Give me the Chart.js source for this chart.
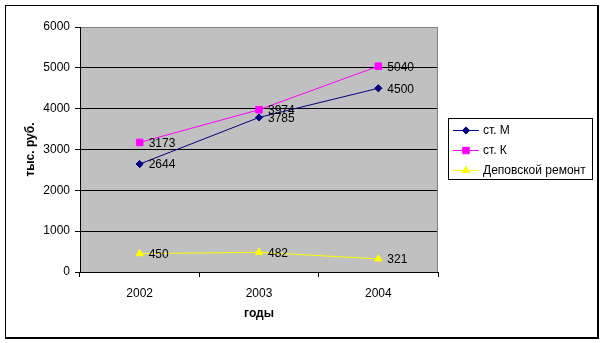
<!DOCTYPE html>
<html>
<head>
<meta charset="utf-8">
<script src="https://cdn.jsdelivr.net/npm/chart.js@4/dist/chart.umd.min.js"></script>
<style>
  html, body { margin: 0; padding: 0; background: #fff; }
  #wrap { width: 604px; height: 343px; position: relative; }
</style>
</head>
<body>
<div id="wrap"><canvas id="c" width="604" height="343"></canvas></div>
<script>
const years = ['2002', '2003', '2004'];
const seriesM = [2644, 3785, 4500];
const seriesK = [3173, 3974, 5040];
const seriesRepair = [450, 482, 321];
const seriesNames = ['ст. М', 'ст. К', 'Деповской ремонт'];
const yTicks = [0, 1000, 2000, 3000, 4000, 5000, 6000];
const yTitle = 'тыс. руб.';
const xTitle = 'годы';

const FONT = "'Liberation Sans', Arial, sans-serif";

const colors = ['#000080', '#FF00FF', '#FFFF00'];
const styles = ['rectRot', 'rect', 'triangle'];
const radii = [3.6, 4.6, 4.2];

const framePlugin = {
  id: 'frame',
  beforeDraw(chart) {
    const {ctx, chartArea: a} = chart;
    ctx.save();
    ctx.fillStyle = '#fff';
    ctx.fillRect(0, 0, chart.width, chart.height);
    ctx.fillStyle = '#C0C0C0';
    ctx.fillRect(a.left, a.top, a.right - a.left, a.bottom - a.top);
    ctx.restore();
  },
  afterDraw(chart) {
    const {ctx, chartArea: a} = chart;
    ctx.save();
    // plot area right edge (gray)
    ctx.fillStyle = '#808080';
    ctx.fillRect(Math.round(a.right) - 1, Math.round(a.top), 1, Math.round(a.bottom - a.top));
    // outer border with shadow
    ctx.fillStyle = '#000';
    ctx.fillRect(5, 5, 593, 1);
    ctx.fillRect(5, 5, 1, 334);
    ctx.fillRect(597, 5, 2, 334);
    ctx.fillRect(5, 337, 594, 2);
    // legend
    ctx.fillStyle = '#fff';
    ctx.fillRect(448, 118, 144, 62);
    ctx.strokeStyle = '#000';
    ctx.lineWidth = 1;
    ctx.strokeRect(448.5, 118.5, 144, 61);
    ctx.font = '12px ' + FONT;
    ctx.textBaseline = 'middle';
    ctx.textAlign = 'left';
    chart.data.datasets.forEach((ds, i) => {
      const y = 130 + i * 20;
      ctx.strokeStyle = ds.borderColor;
      ctx.lineWidth = 1;
      ctx.beginPath();
      ctx.moveTo(453, y + 0.5);
      ctx.lineTo(479, y + 0.5);
      ctx.stroke();
      ctx.fillStyle = ds.pointBackgroundColor;
      ctx.strokeStyle = ds.pointBorderColor;
      Chart.helpers.drawPoint(ctx, {pointStyle: ds.pointStyle, radius: ds.pointRadius, borderWidth: 1}, 466, y + 0.5);
      ctx.fillStyle = '#000';
      ctx.fillText(ds.label, 483, y + 1);
    });
    ctx.restore();
  },
  afterDatasetsDraw(chart) {
    const {ctx} = chart;
    ctx.save();
    ctx.font = '12px ' + FONT;
    ctx.fillStyle = '#000';
    ctx.textBaseline = 'middle';
    ctx.textAlign = 'left';
    chart.data.datasets.forEach((ds, i) => {
      const meta = chart.getDatasetMeta(i);
      meta.data.forEach((pt, j) => {
        ctx.fillText(String(ds.data[j]), pt.x + 9, pt.y + 1);
      });
    });
    ctx.restore();
  }
};

const allSeries = [seriesM, seriesK, seriesRepair];
const datasets = allSeries.map((d, i) => ({
  label: seriesNames[i],
  data: d,
  borderColor: colors[i],
  backgroundColor: colors[i],
  pointBackgroundColor: colors[i],
  pointBorderColor: colors[i],
  pointStyle: styles[i],
  pointRadius: radii[i],
  pointHoverRadius: radii[i],
  pointBorderWidth: 1,
  borderWidth: 1,
  tension: 0,
  fill: false
}));

new Chart(document.getElementById('c'), {
  type: 'line',
  data: { labels: years, datasets },
  plugins: [framePlugin],
  options: {
    responsive: false,
    animation: false,
    devicePixelRatio: 1,
    layout: { padding: { left: 0, right: 166, top: 27, bottom: 0 } },
    plugins: { legend: { display: false }, tooltip: { enabled: false } },
    scales: {
      x: {
        type: 'category',
        offset: true,
        grid: { offset: true, drawOnChartArea: false, drawTicks: true, tickLength: 5, color: '#000', tickColor: '#000' },
        border: { display: true, color: '#000', width: 1 },
        ticks: { font: { family: FONT, size: 12 }, color: '#000', padding: 9, maxRotation: 0 },
        title: { display: true, text: xTitle, font: { family: FONT, size: 12, weight: 'bold' }, color: '#000', padding: { top: 0, bottom: 22.4 } },
        afterFit(scale) { scale.height = 71; }
      },
      y: {
        min: 0,
        max: 6000,
        afterBuildTicks(scale) { scale.ticks = yTicks.map(v => ({ value: v })); },
        grid: {
          color: (ctx) => (ctx.tick && ctx.tick.value === 6000) ? '#808080' : '#000',
          tickColor: '#000',
          lineWidth: 1,
          tickLength: 5,
          drawTicks: true
        },
        border: { display: true, color: '#000', width: 1 },
        ticks: {
          font: { family: FONT, size: 12 },
          color: '#000',
          padding: 5,
          callback: (v) => String(v)
        },
        title: { display: true, text: yTitle, font: { family: FONT, size: 12, weight: 'bold' }, color: '#000', padding: { top: 23.4, bottom: 0 } },
        afterFit(scale) { scale.width = 80; }
      }
    }
  }
});
</script>
</body>
</html>
